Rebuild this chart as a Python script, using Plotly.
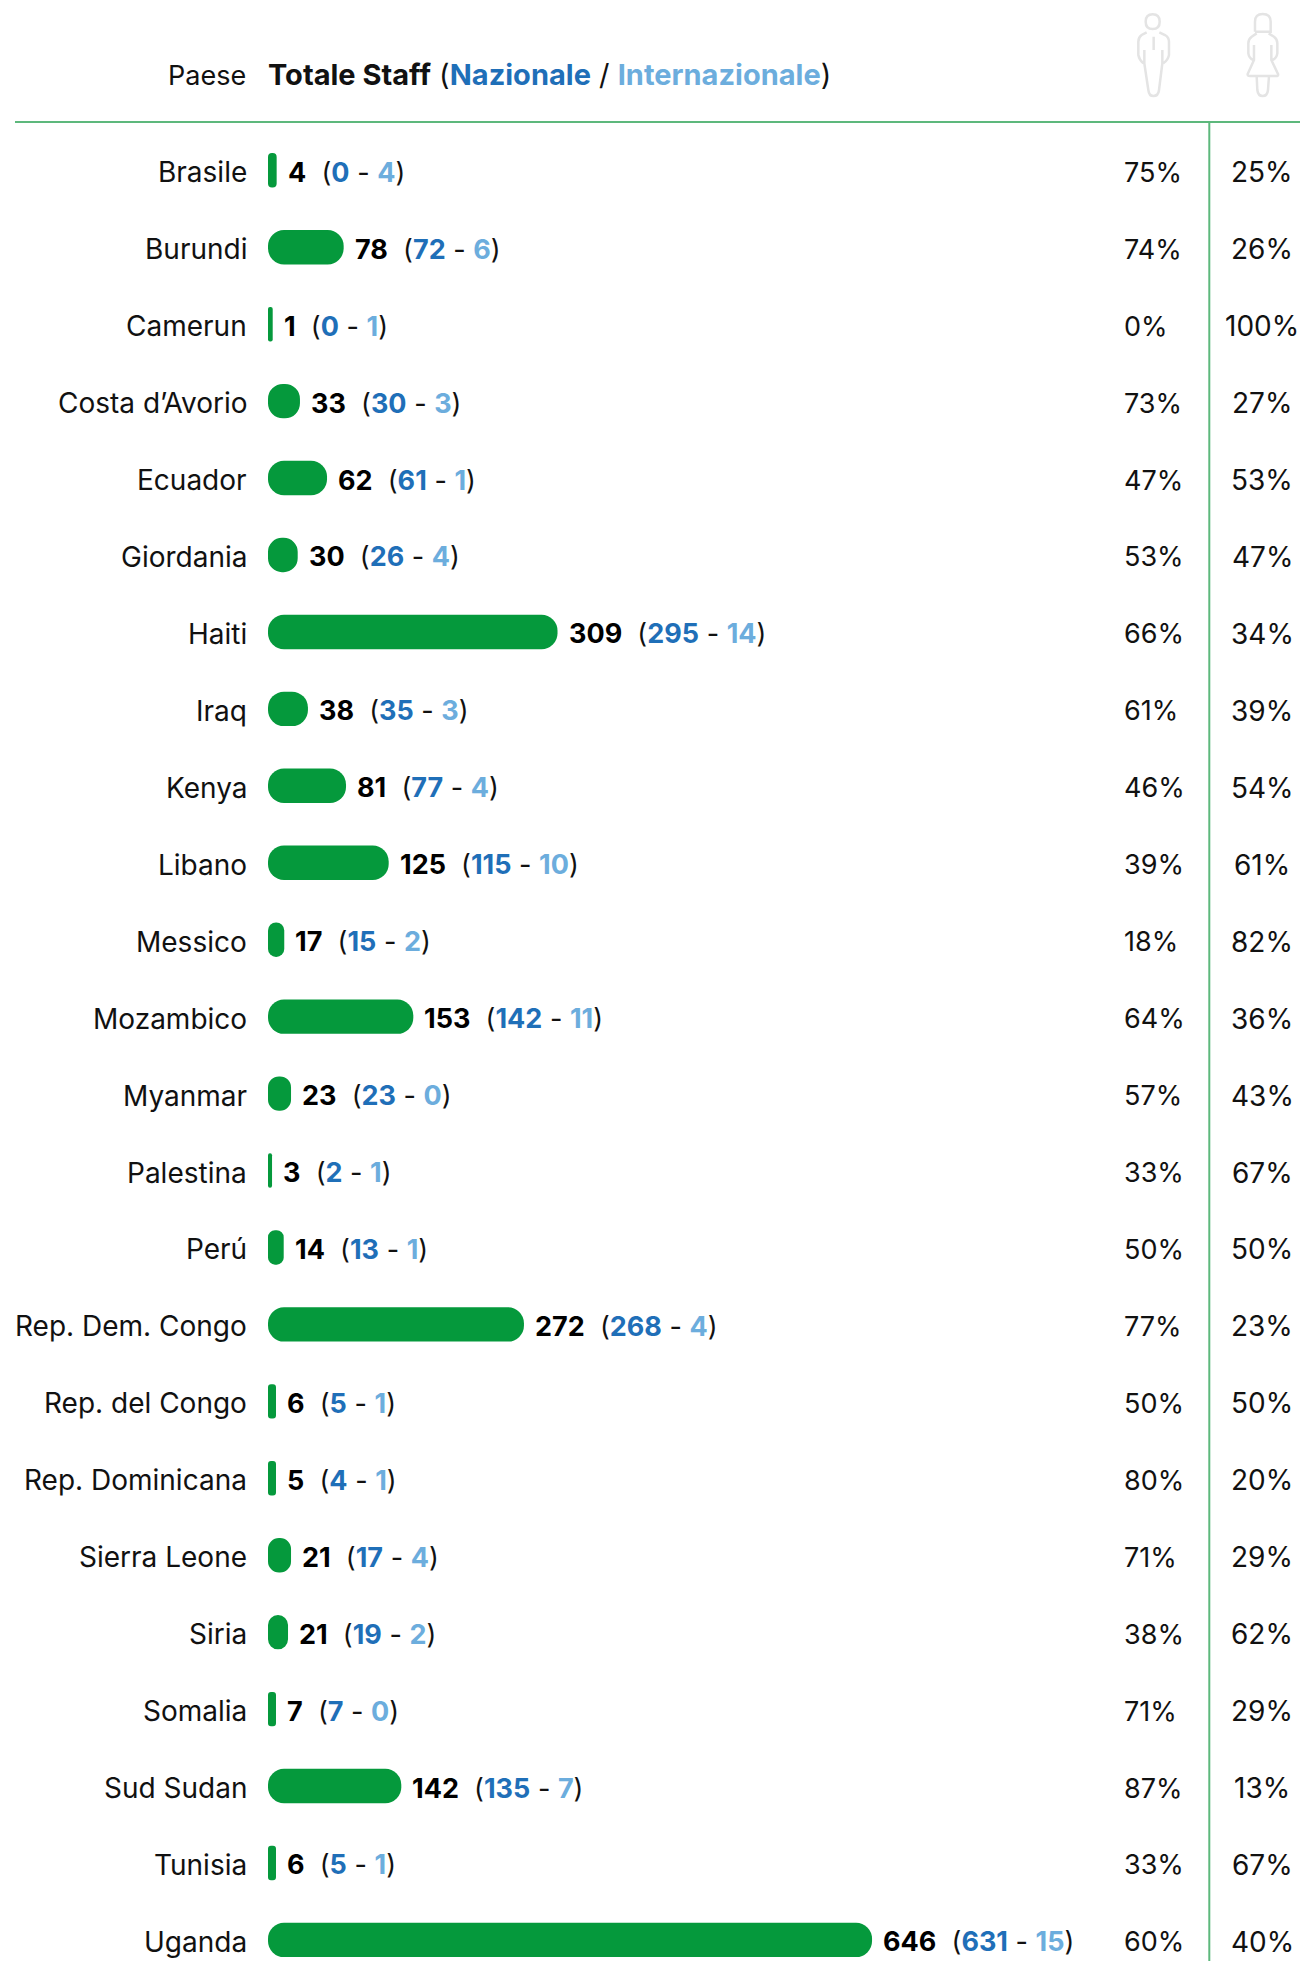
import re
import plotly.graph_objects as go

countries = ["Brasile","Burundi","Camerun","Costa d’Avorio","Ecuador","Giordania","Haiti","Iraq","Kenya","Libano","Messico","Mozambico","Myanmar","Palestina","Perú","Rep. Dem. Congo","Rep. del Congo","Rep. Dominicana","Sierra Leone","Siria","Somalia","Sud Sudan","Tunisia","Uganda"]
totale = [4,78,1,33,62,30,309,38,81,125,17,153,23,3,14,272,6,5,21,21,7,142,6,646]
nazionale = [0,72,0,30,61,26,295,35,77,115,15,142,23,2,13,268,5,4,17,19,7,135,5,631]
internazionale = [4,6,1,3,1,4,14,3,4,10,2,11,0,1,1,4,1,1,4,2,0,7,1,15]
uomini = [75,74,0,73,47,53,66,61,46,39,18,64,57,33,50,77,50,80,71,38,71,87,33,60]
donne = [25,26,100,27,53,47,34,39,54,61,82,36,43,67,50,23,50,20,29,62,29,13,67,40]
# drawn bar lengths (staff units)
barre = [9.2,80.5,5,34,62.8,31.6,308,42.5,83,128.4,17.3,154.6,24.5,4.3,16.7,272.3,8.5,8.5,24.5,21.3,8.5,141.8,8.5,642.6]

W, H = 1303, 1961
GREEN, BLUE, LIGHT, RULE, ICON = "#05993c", "#1f6fb8", "#6caddd", "#5db87c", "#e4e4e4"
FONT = "Inter"
FS = 27
px = lambda x: x / W
py = lambda y: 1 - y / H

fig = go.Figure()
fig.add_trace(go.Bar(y=countries, x=barre, base=[0] * len(barre), orientation="h",
                     marker=dict(color=GREEN, line_width=0, cornerradius=16), hoverinfo="skip", showlegend=False))

ann = []
for c, t, n, i, u, d, b in zip(countries, totale, nazionale, internazionale, uomini, donne, barre):
    txt = (f"<span style='font-weight:bold;fill:#000'>{t}</span>\u00a0\u00a0(<span style='color:{BLUE};font-weight:700'>{n}</span> - "
           f"<span style='color:{LIGHT};font-weight:700'>{i}</span>)")
    ann.append(dict(x=b, y=c, xref="x", yref="y", text=txt, showarrow=False, xanchor="left", xshift=9, yshift=-2,
                    font=dict(size=FS, color="#111", family=FONT)))
    ann.append(dict(x=px(249), y=c, xref="paper", yref="y", text=c, showarrow=False, xanchor="right", yshift=-2,
                    font=dict(size=28, color="#111", family=FONT)))
    ann.append(dict(x=px(1122), y=c, xref="paper", yref="y", text=f"{u}%", showarrow=False, xanchor="left", yshift=-2,
                    font=dict(size=FS, color="#111", family=FONT)))
    ann.append(dict(x=px(1262), y=c, xref="paper", yref="y", text=f"{d}%", showarrow=False, xanchor="center", yshift=-2,
                    font=dict(size=28, color="#111", family=FONT)))
ann.append(dict(x=px(248), y=py(76), xref="paper", yref="paper", text="Paese", showarrow=False, xanchor="right", yanchor="middle",
                font=dict(size=FS, color="#111", family=FONT)))
ann.append(dict(x=px(266), y=py(75), xref="paper", yref="paper", showarrow=False, xanchor="left", yanchor="middle",
                text=f"<b>Totale Staff</b> (<span style='color:{BLUE};font-weight:bold'>Nazionale</span> / "
                     f"<span style='color:{LIGHT};font-weight:bold'>Internazionale</span>)",
                font=dict(size=29, color="#111", family=FONT)))

def icon(path):
    # path is given in pixels of a 3x crop whose origin is (1050, 0)
    def conv(m):
        return f"{px(1050 + float(m.group(1)) / 3):.5f},{py(float(m.group(2)) / 3):.5f}"
    return re.sub(r"(\d+(?:\.\d+)?),(\d+(?:\.\d+)?)", conv, path)

man = ("M287,65 Q287,43 308,43 Q329,43 329,65 Q329,87 308,87 Q287,87 287,65 "
       "M290,97 L275,105 Q265,112 265,125 L265,165 Q268,180 280,190 "
       "M283,150 L283,190 L295,270 Q297,288 310,288 Q325,288 327,270 L337,190 L337,150 "
       "M328,97 L345,105 Q357,112 357,125 L357,165 Q354,180 340,190 M311,110 L311,150")
woman = ("M615,95 L615,65 Q615,42 638,42 Q662,42 662,65 L662,95 L615,95 "
         "M620,100 L605,110 Q595,117 595,130 L595,160 Q597,175 610,180 "
         "M656,100 L672,110 Q682,117 682,130 L682,160 Q680,175 667,180 "
         "M612,135 L612,180 L593,222 Q592,228 600,228 L678,228 Q686,228 684,222 L664,180 L664,135 "
         "M620,228 L622,270 Q624,288 638,288 Q652,288 654,270 L657,228")
shapes = [
    dict(type="line", xref="paper", yref="paper", x0=px(15), x1=px(1300), y0=py(122), y1=py(122), line=dict(color=RULE, width=2)),
    dict(type="line", xref="paper", yref="paper", x0=px(1209.3), x1=px(1209.3), y0=py(122), y1=0, line=dict(color=RULE, width=2)),
    dict(type="path", xref="paper", yref="paper", path=icon(man), line=dict(color=ICON, width=2.5)),
    dict(type="path", xref="paper", yref="paper", path=icon(woman), line=dict(color=ICON, width=2.5)),
]

ROW, FIRST = 76.94, 170.3
fig.update_layout(
    width=W, height=H, margin=dict(l=0, r=0, t=0, b=0), paper_bgcolor="white", plot_bgcolor="white",
    barmode="overlay", bargap=0.553, showlegend=False, annotations=ann, shapes=shapes,
    xaxis=dict(domain=[268 / W, 1], range=[0, (W - 268) / 0.94], visible=False, fixedrange=True),
    yaxis=dict(domain=[0, 1 - 122 / H], type="category", categoryorder="array", categoryarray=countries,
               range=[(H - FIRST) / ROW, (122 - FIRST) / ROW], showgrid=False, showline=False, zeroline=False,
               showticklabels=False, ticks="", automargin=False, fixedrange=True),
)
fig.write_html("out.html", config=dict(displayModeBar=False),
               post_script="document.body.style.margin='0';document.documentElement.style.overflow='hidden';")
